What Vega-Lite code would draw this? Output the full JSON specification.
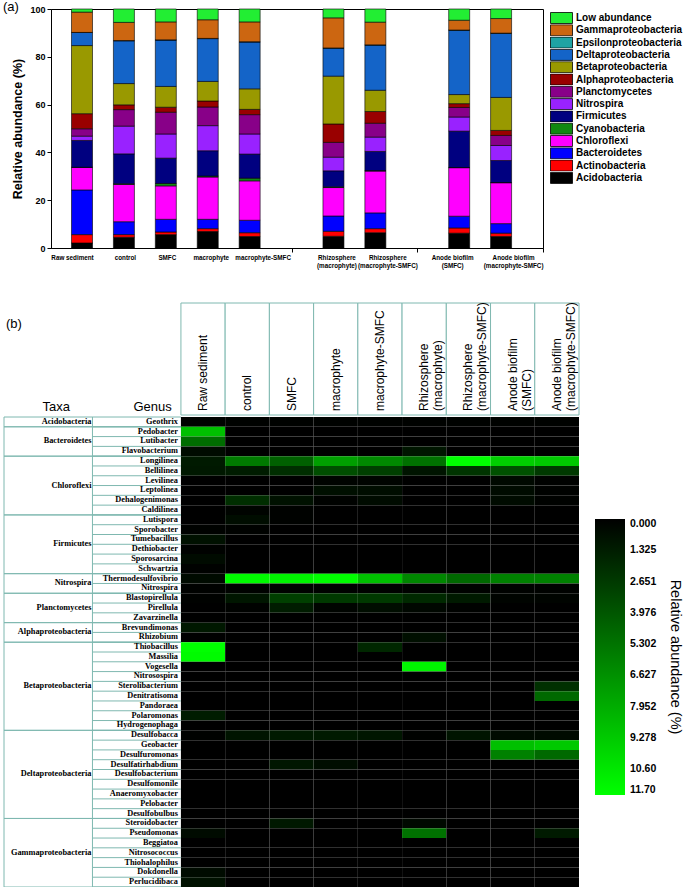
{
"$schema": "https://vega.github.io/schema/vega-lite/v6.json",
"padding": {"left": 2, "top": 0, "right": 2, "bottom": 2},
"background": "white",
"config": {"view": {"stroke": null}, "font": "Liberation Sans", "axis": {"labelColor": "black", "titleColor": "black", "domainColor": "black", "tickColor": "black"}},
"datasets": {
"phylumOrder": [
{"phylum":"Acidobacteria","level":1},{"phylum":"Actinobacteria","level":2},{"phylum":"Bacteroidetes","level":3},{"phylum":"Chloroflexi","level":4},{"phylum":"Cyanobacteria","level":5},{"phylum":"Firmicutes","level":6},{"phylum":"Nitrospira","level":7},{"phylum":"Planctomycetes","level":8},{"phylum":"Alphaproteobacteria","level":9},{"phylum":"Betaproteobacteria","level":10},{"phylum":"Deltaproteobacteria","level":11},{"phylum":"Epsilonproteobacteria","level":12},{"phylum":"Gammaproteobacteria","level":13},{"phylum":"Low abundance","level":14}
],
"bars": [
{"sample":"Raw sediment","phylum":"Acidobacteria","pct":2.1},{"sample":"Raw sediment","phylum":"Actinobacteria","pct":3.5},{"sample":"Raw sediment","phylum":"Bacteroidetes","pct":18.7},{"sample":"Raw sediment","phylum":"Chloroflexi","pct":9.4},{"sample":"Raw sediment","phylum":"Cyanobacteria","pct":0.1},{"sample":"Raw sediment","phylum":"Firmicutes","pct":11.2},{"sample":"Raw sediment","phylum":"Nitrospira","pct":1.8},{"sample":"Raw sediment","phylum":"Planctomycetes","pct":3.1},{"sample":"Raw sediment","phylum":"Alphaproteobacteria","pct":6.3},{"sample":"Raw sediment","phylum":"Betaproteobacteria","pct":28.5},{"sample":"Raw sediment","phylum":"Deltaproteobacteria","pct":5.5},{"sample":"Raw sediment","phylum":"Epsilonproteobacteria","pct":0},{"sample":"Raw sediment","phylum":"Gammaproteobacteria","pct":8.5},{"sample":"Raw sediment","phylum":"Low abundance","pct":1.3},
{"sample":"control","phylum":"Acidobacteria","pct":4.5},{"sample":"control","phylum":"Actinobacteria","pct":1.1},{"sample":"control","phylum":"Bacteroidetes","pct":5.4},{"sample":"control","phylum":"Chloroflexi","pct":15.6},{"sample":"control","phylum":"Cyanobacteria","pct":0.3},{"sample":"control","phylum":"Firmicutes","pct":12.5},{"sample":"control","phylum":"Nitrospira","pct":11.6},{"sample":"control","phylum":"Planctomycetes","pct":6.9},{"sample":"control","phylum":"Alphaproteobacteria","pct":2.0},{"sample":"control","phylum":"Betaproteobacteria","pct":8.9},{"sample":"control","phylum":"Deltaproteobacteria","pct":17.9},{"sample":"control","phylum":"Epsilonproteobacteria","pct":0.1},{"sample":"control","phylum":"Gammaproteobacteria","pct":7.6},{"sample":"control","phylum":"Low abundance","pct":5.6},
{"sample":"SMFC","phylum":"Acidobacteria","pct":5.6},{"sample":"SMFC","phylum":"Actinobacteria","pct":1.1},{"sample":"SMFC","phylum":"Bacteroidetes","pct":5.3},{"sample":"SMFC","phylum":"Chloroflexi","pct":14.0},{"sample":"SMFC","phylum":"Cyanobacteria","pct":1.0},{"sample":"SMFC","phylum":"Firmicutes","pct":10.6},{"sample":"SMFC","phylum":"Nitrospira","pct":10.1},{"sample":"SMFC","phylum":"Planctomycetes","pct":9.1},{"sample":"SMFC","phylum":"Alphaproteobacteria","pct":2.1},{"sample":"SMFC","phylum":"Betaproteobacteria","pct":8.7},{"sample":"SMFC","phylum":"Deltaproteobacteria","pct":19.4},{"sample":"SMFC","phylum":"Epsilonproteobacteria","pct":0.1},{"sample":"SMFC","phylum":"Gammaproteobacteria","pct":7.5},{"sample":"SMFC","phylum":"Low abundance","pct":5.4},
{"sample":"macrophyte","phylum":"Acidobacteria","pct":6.9},{"sample":"macrophyte","phylum":"Actinobacteria","pct":1.2},{"sample":"macrophyte","phylum":"Bacteroidetes","pct":3.9},{"sample":"macrophyte","phylum":"Chloroflexi","pct":17.7},{"sample":"macrophyte","phylum":"Cyanobacteria","pct":0.4},{"sample":"macrophyte","phylum":"Firmicutes","pct":10.6},{"sample":"macrophyte","phylum":"Nitrospira","pct":10.5},{"sample":"macrophyte","phylum":"Planctomycetes","pct":7.8},{"sample":"macrophyte","phylum":"Alphaproteobacteria","pct":2.5},{"sample":"macrophyte","phylum":"Betaproteobacteria","pct":8.2},{"sample":"macrophyte","phylum":"Deltaproteobacteria","pct":17.9},{"sample":"macrophyte","phylum":"Epsilonproteobacteria","pct":0.1},{"sample":"macrophyte","phylum":"Gammaproteobacteria","pct":7.8},{"sample":"macrophyte","phylum":"Low abundance","pct":4.5},
{"sample":"macrophyte-SMFC","phylum":"Acidobacteria","pct":4.8},{"sample":"macrophyte-SMFC","phylum":"Actinobacteria","pct":1.6},{"sample":"macrophyte-SMFC","phylum":"Bacteroidetes","pct":5.2},{"sample":"macrophyte-SMFC","phylum":"Chloroflexi","pct":16.5},{"sample":"macrophyte-SMFC","phylum":"Cyanobacteria","pct":1.1},{"sample":"macrophyte-SMFC","phylum":"Firmicutes","pct":10.1},{"sample":"macrophyte-SMFC","phylum":"Nitrospira","pct":8.4},{"sample":"macrophyte-SMFC","phylum":"Planctomycetes","pct":8.1},{"sample":"macrophyte-SMFC","phylum":"Alphaproteobacteria","pct":2.2},{"sample":"macrophyte-SMFC","phylum":"Betaproteobacteria","pct":8.6},{"sample":"macrophyte-SMFC","phylum":"Deltaproteobacteria","pct":19.6},{"sample":"macrophyte-SMFC","phylum":"Epsilonproteobacteria","pct":0.1},{"sample":"macrophyte-SMFC","phylum":"Gammaproteobacteria","pct":8.3},{"sample":"macrophyte-SMFC","phylum":"Low abundance","pct":5.4},
{"sample":"Rhizosphere\n(macrophyte)","phylum":"Acidobacteria","pct":4.9},{"sample":"Rhizosphere\n(macrophyte)","phylum":"Actinobacteria","pct":2.1},{"sample":"Rhizosphere\n(macrophyte)","phylum":"Bacteroidetes","pct":6.4},{"sample":"Rhizosphere\n(macrophyte)","phylum":"Chloroflexi","pct":11.9},{"sample":"Rhizosphere\n(macrophyte)","phylum":"Cyanobacteria","pct":0.3},{"sample":"Rhizosphere\n(macrophyte)","phylum":"Firmicutes","pct":6.7},{"sample":"Rhizosphere\n(macrophyte)","phylum":"Nitrospira","pct":5.7},{"sample":"Rhizosphere\n(macrophyte)","phylum":"Planctomycetes","pct":6.2},{"sample":"Rhizosphere\n(macrophyte)","phylum":"Alphaproteobacteria","pct":7.7},{"sample":"Rhizosphere\n(macrophyte)","phylum":"Betaproteobacteria","pct":20.0},{"sample":"Rhizosphere\n(macrophyte)","phylum":"Deltaproteobacteria","pct":11.7},{"sample":"Rhizosphere\n(macrophyte)","phylum":"Epsilonproteobacteria","pct":0.1},{"sample":"Rhizosphere\n(macrophyte)","phylum":"Gammaproteobacteria","pct":12.6},{"sample":"Rhizosphere\n(macrophyte)","phylum":"Low abundance","pct":3.7},
{"sample":"Rhizosphere\n(macrophyte-SMFC)","phylum":"Acidobacteria","pct":6.4},{"sample":"Rhizosphere\n(macrophyte-SMFC)","phylum":"Actinobacteria","pct":1.7},{"sample":"Rhizosphere\n(macrophyte-SMFC)","phylum":"Bacteroidetes","pct":6.6},{"sample":"Rhizosphere\n(macrophyte-SMFC)","phylum":"Chloroflexi","pct":17.5},{"sample":"Rhizosphere\n(macrophyte-SMFC)","phylum":"Cyanobacteria","pct":0.2},{"sample":"Rhizosphere\n(macrophyte-SMFC)","phylum":"Firmicutes","pct":8.0},{"sample":"Rhizosphere\n(macrophyte-SMFC)","phylum":"Nitrospira","pct":6.0},{"sample":"Rhizosphere\n(macrophyte-SMFC)","phylum":"Planctomycetes","pct":5.8},{"sample":"Rhizosphere\n(macrophyte-SMFC)","phylum":"Alphaproteobacteria","pct":4.9},{"sample":"Rhizosphere\n(macrophyte-SMFC)","phylum":"Betaproteobacteria","pct":8.9},{"sample":"Rhizosphere\n(macrophyte-SMFC)","phylum":"Deltaproteobacteria","pct":18.9},{"sample":"Rhizosphere\n(macrophyte-SMFC)","phylum":"Epsilonproteobacteria","pct":0.1},{"sample":"Rhizosphere\n(macrophyte-SMFC)","phylum":"Gammaproteobacteria","pct":9.5},{"sample":"Rhizosphere\n(macrophyte-SMFC)","phylum":"Low abundance","pct":5.5},
{"sample":"Anode biofilm\n(SMFC)","phylum":"Acidobacteria","pct":6.2},{"sample":"Anode biofilm\n(SMFC)","phylum":"Actinobacteria","pct":2.2},{"sample":"Anode biofilm\n(SMFC)","phylum":"Bacteroidetes","pct":4.9},{"sample":"Anode biofilm\n(SMFC)","phylum":"Chloroflexi","pct":20.3},{"sample":"Anode biofilm\n(SMFC)","phylum":"Cyanobacteria","pct":0.1},{"sample":"Anode biofilm\n(SMFC)","phylum":"Firmicutes","pct":15.2},{"sample":"Anode biofilm\n(SMFC)","phylum":"Nitrospira","pct":5.9},{"sample":"Anode biofilm\n(SMFC)","phylum":"Planctomycetes","pct":4.0},{"sample":"Anode biofilm\n(SMFC)","phylum":"Alphaproteobacteria","pct":1.6},{"sample":"Anode biofilm\n(SMFC)","phylum":"Betaproteobacteria","pct":3.8},{"sample":"Anode biofilm\n(SMFC)","phylum":"Deltaproteobacteria","pct":26.9},{"sample":"Anode biofilm\n(SMFC)","phylum":"Epsilonproteobacteria","pct":0.1},{"sample":"Anode biofilm\n(SMFC)","phylum":"Gammaproteobacteria","pct":4.1},{"sample":"Anode biofilm\n(SMFC)","phylum":"Low abundance","pct":4.7},
{"sample":"Anode biofilm\n(macrophyte-SMFC)","phylum":"Acidobacteria","pct":4.8},{"sample":"Anode biofilm\n(macrophyte-SMFC)","phylum":"Actinobacteria","pct":1.4},{"sample":"Anode biofilm\n(macrophyte-SMFC)","phylum":"Bacteroidetes","pct":4.0},{"sample":"Anode biofilm\n(macrophyte-SMFC)","phylum":"Chloroflexi","pct":17.1},{"sample":"Anode biofilm\n(macrophyte-SMFC)","phylum":"Cyanobacteria","pct":0.1},{"sample":"Anode biofilm\n(macrophyte-SMFC)","phylum":"Firmicutes","pct":9.2},{"sample":"Anode biofilm\n(macrophyte-SMFC)","phylum":"Nitrospira","pct":6.3},{"sample":"Anode biofilm\n(macrophyte-SMFC)","phylum":"Planctomycetes","pct":4.2},{"sample":"Anode biofilm\n(macrophyte-SMFC)","phylum":"Alphaproteobacteria","pct":2.1},{"sample":"Anode biofilm\n(macrophyte-SMFC)","phylum":"Betaproteobacteria","pct":13.8},{"sample":"Anode biofilm\n(macrophyte-SMFC)","phylum":"Deltaproteobacteria","pct":26.8},{"sample":"Anode biofilm\n(macrophyte-SMFC)","phylum":"Epsilonproteobacteria","pct":0.1},{"sample":"Anode biofilm\n(macrophyte-SMFC)","phylum":"Gammaproteobacteria","pct":6.1},{"sample":"Anode biofilm\n(macrophyte-SMFC)","phylum":"Low abundance","pct":4.0}
],
"samples": [
{"code":"RS","label":"Raw sediment"},{"code":"C","label":"control"},{"code":"S","label":"SMFC"},{"code":"M","label":"macrophyte"},{"code":"MS","label":"macrophyte-SMFC"},{"code":"RhM","label":"Rhizosphere\n(macrophyte)"},{"code":"RhMS","label":"Rhizosphere\n(macrophyte-SMFC)"},{"code":"AS","label":"Anode biofilm\n(SMFC)"},{"code":"AMS","label":"Anode biofilm\n(macrophyte-SMFC)"}
],
"genera": [
{"genus":"Geothrix","taxa":"Acidobacteria"},{"genus":"Pedobacter","taxa":"Bacteroidetes"},{"genus":"Lutibacter","taxa":"Bacteroidetes"},{"genus":"Flavobacterium","taxa":"Bacteroidetes"},{"genus":"Longilinea","taxa":"Chloroflexi"},{"genus":"Bellilinea","taxa":"Chloroflexi"},{"genus":"Levilinea","taxa":"Chloroflexi"},{"genus":"Leptolinea","taxa":"Chloroflexi"},{"genus":"Dehalogenimonas","taxa":"Chloroflexi"},{"genus":"Caldilinea","taxa":"Chloroflexi"},{"genus":"Lutispora","taxa":"Firmicutes"},{"genus":"Sporobacter","taxa":"Firmicutes"},{"genus":"Tumebacillus","taxa":"Firmicutes"},{"genus":"Dethiobacter","taxa":"Firmicutes"},{"genus":"Sporosarcina","taxa":"Firmicutes"},{"genus":"Schwartzia","taxa":"Firmicutes"},{"genus":"Thermodesulfovibrio","taxa":"Nitrospira"},{"genus":"Nitrospira","taxa":"Nitrospira"},{"genus":"Blastopirellula","taxa":"Planctomycetes"},{"genus":"Pirellula","taxa":"Planctomycetes"},{"genus":"Zavarzinella","taxa":"Planctomycetes"},{"genus":"Brevundimonas","taxa":"Alphaproteobacteria"},{"genus":"Rhizobium","taxa":"Alphaproteobacteria"},{"genus":"Thiobacillus","taxa":"Betaproteobacteria"},{"genus":"Massilia","taxa":"Betaproteobacteria"},{"genus":"Vogesella","taxa":"Betaproteobacteria"},{"genus":"Nitrosospira","taxa":"Betaproteobacteria"},{"genus":"Sterolibacterium","taxa":"Betaproteobacteria"},{"genus":"Denitratisoma","taxa":"Betaproteobacteria"},{"genus":"Pandoraea","taxa":"Betaproteobacteria"},{"genus":"Polaromonas","taxa":"Betaproteobacteria"},{"genus":"Hydrogenophaga","taxa":"Betaproteobacteria"},{"genus":"Desulfobacca","taxa":"Deltaproteobacteria"},{"genus":"Geobacter","taxa":"Deltaproteobacteria"},{"genus":"Desulfuromonas","taxa":"Deltaproteobacteria"},{"genus":"Desulfatirhabdium","taxa":"Deltaproteobacteria"},{"genus":"Desulfobacterium","taxa":"Deltaproteobacteria"},{"genus":"Desulfomonile","taxa":"Deltaproteobacteria"},{"genus":"Anaeromyxobacter","taxa":"Deltaproteobacteria"},{"genus":"Pelobacter","taxa":"Deltaproteobacteria"},{"genus":"Desulfobulbus","taxa":"Deltaproteobacteria"},{"genus":"Steroidobacter","taxa":"Gammaproteobacteria"},{"genus":"Pseudomonas","taxa":"Gammaproteobacteria"},{"genus":"Beggiatoa","taxa":"Gammaproteobacteria"},{"genus":"Nitrosococcus","taxa":"Gammaproteobacteria"},{"genus":"Thiohalophilus","taxa":"Gammaproteobacteria"},{"genus":"Dokdonella","taxa":"Gammaproteobacteria"},{"genus":"Perlucidibaca","taxa":"Gammaproteobacteria"}
],
"taxa": [
{"taxa":"Acidobacteria","first":"Geothrix","last":"Geothrix","mid":"Geothrix","n":1},
{"taxa":"Bacteroidetes","first":"Pedobacter","last":"Flavobacterium","mid":"Lutibacter","n":3},
{"taxa":"Chloroflexi","first":"Longilinea","last":"Caldilinea","mid":"Leptolinea","n":6},
{"taxa":"Firmicutes","first":"Lutispora","last":"Schwartzia","mid":"Dethiobacter","n":6},
{"taxa":"Nitrospira","first":"Thermodesulfovibrio","last":"Nitrospira","mid":"Nitrospira","n":2},
{"taxa":"Planctomycetes","first":"Blastopirellula","last":"Zavarzinella","mid":"Pirellula","n":3},
{"taxa":"Alphaproteobacteria","first":"Brevundimonas","last":"Rhizobium","mid":"Rhizobium","n":2},
{"taxa":"Betaproteobacteria","first":"Thiobacillus","last":"Hydrogenophaga","mid":"Sterolibacterium","n":9},
{"taxa":"Deltaproteobacteria","first":"Desulfobacca","last":"Desulfobulbus","mid":"Desulfobacterium","n":9},
{"taxa":"Gammaproteobacteria","first":"Steroidobacter","last":"Perlucidibaca","mid":"Nitrosococcus","n":7}
],
"cells": [
{"genus":"Geothrix","code":"RS","value":0.1},{"genus":"Geothrix","code":"C","value":0.1},{"genus":"Geothrix","code":"S","value":0.1},{"genus":"Geothrix","code":"M","value":0.1},{"genus":"Geothrix","code":"MS","value":0.1},{"genus":"Geothrix","code":"RhM","value":0.1},{"genus":"Geothrix","code":"RhMS","value":0.1},{"genus":"Geothrix","code":"AS","value":0.1},{"genus":"Geothrix","code":"AMS","value":0.1},
{"genus":"Pedobacter","code":"RS","value":8.8},{"genus":"Pedobacter","code":"C","value":0},{"genus":"Pedobacter","code":"S","value":0},{"genus":"Pedobacter","code":"M","value":0},{"genus":"Pedobacter","code":"MS","value":0},{"genus":"Pedobacter","code":"RhM","value":0},{"genus":"Pedobacter","code":"RhMS","value":0},{"genus":"Pedobacter","code":"AS","value":0},{"genus":"Pedobacter","code":"AMS","value":0},
{"genus":"Lutibacter","code":"RS","value":5.0},{"genus":"Lutibacter","code":"C","value":0},{"genus":"Lutibacter","code":"S","value":0},{"genus":"Lutibacter","code":"M","value":0},{"genus":"Lutibacter","code":"MS","value":0},{"genus":"Lutibacter","code":"RhM","value":0},{"genus":"Lutibacter","code":"RhMS","value":0},{"genus":"Lutibacter","code":"AS","value":0},{"genus":"Lutibacter","code":"AMS","value":0},
{"genus":"Flavobacterium","code":"RS","value":0.5},{"genus":"Flavobacterium","code":"C","value":0},{"genus":"Flavobacterium","code":"S","value":0},{"genus":"Flavobacterium","code":"M","value":0},{"genus":"Flavobacterium","code":"MS","value":0},{"genus":"Flavobacterium","code":"RhM","value":1.0},{"genus":"Flavobacterium","code":"RhMS","value":0},{"genus":"Flavobacterium","code":"AS","value":0},{"genus":"Flavobacterium","code":"AMS","value":0},
{"genus":"Longilinea","code":"RS","value":1.2},{"genus":"Longilinea","code":"C","value":5.6},{"genus":"Longilinea","code":"S","value":4.4},{"genus":"Longilinea","code":"M","value":7.3},{"genus":"Longilinea","code":"MS","value":6.3},{"genus":"Longilinea","code":"RhM","value":5.2},{"genus":"Longilinea","code":"RhMS","value":11.7},{"genus":"Longilinea","code":"AS","value":9.5},{"genus":"Longilinea","code":"AMS","value":9.2},
{"genus":"Bellilinea","code":"RS","value":1.1},{"genus":"Bellilinea","code":"C","value":1.3},{"genus":"Bellilinea","code":"S","value":2.1},{"genus":"Bellilinea","code":"M","value":3.6},{"genus":"Bellilinea","code":"MS","value":2.9},{"genus":"Bellilinea","code":"RhM","value":0.9},{"genus":"Bellilinea","code":"RhMS","value":2.4},{"genus":"Bellilinea","code":"AS","value":3.7},{"genus":"Bellilinea","code":"AMS","value":2.6},
{"genus":"Levilinea","code":"RS","value":0},{"genus":"Levilinea","code":"C","value":0},{"genus":"Levilinea","code":"S","value":0},{"genus":"Levilinea","code":"M","value":0.2},{"genus":"Levilinea","code":"MS","value":0.2},{"genus":"Levilinea","code":"RhM","value":0},{"genus":"Levilinea","code":"RhMS","value":0},{"genus":"Levilinea","code":"AS","value":0.4},{"genus":"Levilinea","code":"AMS","value":0.1},
{"genus":"Leptolinea","code":"RS","value":0},{"genus":"Leptolinea","code":"C","value":0},{"genus":"Leptolinea","code":"S","value":0},{"genus":"Leptolinea","code":"M","value":0.7},{"genus":"Leptolinea","code":"MS","value":0.6},{"genus":"Leptolinea","code":"RhM","value":0},{"genus":"Leptolinea","code":"RhMS","value":0},{"genus":"Leptolinea","code":"AS","value":0.5},{"genus":"Leptolinea","code":"AMS","value":0.1},
{"genus":"Dehalogenimonas","code":"RS","value":0},{"genus":"Dehalogenimonas","code":"C","value":2.1},{"genus":"Dehalogenimonas","code":"S","value":0.8},{"genus":"Dehalogenimonas","code":"M","value":0.1},{"genus":"Dehalogenimonas","code":"MS","value":0.5},{"genus":"Dehalogenimonas","code":"RhM","value":0},{"genus":"Dehalogenimonas","code":"RhMS","value":0},{"genus":"Dehalogenimonas","code":"AS","value":0.5},{"genus":"Dehalogenimonas","code":"AMS","value":0.1},
{"genus":"Caldilinea","code":"RS","value":0},{"genus":"Caldilinea","code":"C","value":0.2},{"genus":"Caldilinea","code":"S","value":0.1},{"genus":"Caldilinea","code":"M","value":0},{"genus":"Caldilinea","code":"MS","value":0},{"genus":"Caldilinea","code":"RhM","value":0},{"genus":"Caldilinea","code":"RhMS","value":0},{"genus":"Caldilinea","code":"AS","value":0},{"genus":"Caldilinea","code":"AMS","value":0},
{"genus":"Lutispora","code":"RS","value":0},{"genus":"Lutispora","code":"C","value":0.6},{"genus":"Lutispora","code":"S","value":0.1},{"genus":"Lutispora","code":"M","value":0},{"genus":"Lutispora","code":"MS","value":0},{"genus":"Lutispora","code":"RhM","value":0},{"genus":"Lutispora","code":"RhMS","value":0},{"genus":"Lutispora","code":"AS","value":0},{"genus":"Lutispora","code":"AMS","value":0},
{"genus":"Sporobacter","code":"RS","value":0.1},{"genus":"Sporobacter","code":"C","value":0.1},{"genus":"Sporobacter","code":"S","value":0},{"genus":"Sporobacter","code":"M","value":0},{"genus":"Sporobacter","code":"MS","value":0},{"genus":"Sporobacter","code":"RhM","value":0},{"genus":"Sporobacter","code":"RhMS","value":0},{"genus":"Sporobacter","code":"AS","value":0},{"genus":"Sporobacter","code":"AMS","value":0},
{"genus":"Tumebacillus","code":"RS","value":0.8},{"genus":"Tumebacillus","code":"C","value":0},{"genus":"Tumebacillus","code":"S","value":0},{"genus":"Tumebacillus","code":"M","value":0},{"genus":"Tumebacillus","code":"MS","value":0},{"genus":"Tumebacillus","code":"RhM","value":0},{"genus":"Tumebacillus","code":"RhMS","value":0},{"genus":"Tumebacillus","code":"AS","value":0},{"genus":"Tumebacillus","code":"AMS","value":0},
{"genus":"Dethiobacter","code":"RS","value":0.1},{"genus":"Dethiobacter","code":"C","value":0},{"genus":"Dethiobacter","code":"S","value":0},{"genus":"Dethiobacter","code":"M","value":0},{"genus":"Dethiobacter","code":"MS","value":0},{"genus":"Dethiobacter","code":"RhM","value":0},{"genus":"Dethiobacter","code":"RhMS","value":0},{"genus":"Dethiobacter","code":"AS","value":0},{"genus":"Dethiobacter","code":"AMS","value":0},
{"genus":"Sporosarcina","code":"RS","value":0.5},{"genus":"Sporosarcina","code":"C","value":0},{"genus":"Sporosarcina","code":"S","value":0},{"genus":"Sporosarcina","code":"M","value":0},{"genus":"Sporosarcina","code":"MS","value":0},{"genus":"Sporosarcina","code":"RhM","value":0},{"genus":"Sporosarcina","code":"RhMS","value":0},{"genus":"Sporosarcina","code":"AS","value":0},{"genus":"Sporosarcina","code":"AMS","value":0},
{"genus":"Schwartzia","code":"RS","value":0.1},{"genus":"Schwartzia","code":"C","value":0},{"genus":"Schwartzia","code":"S","value":0},{"genus":"Schwartzia","code":"M","value":0},{"genus":"Schwartzia","code":"MS","value":0},{"genus":"Schwartzia","code":"RhM","value":0},{"genus":"Schwartzia","code":"RhMS","value":0},{"genus":"Schwartzia","code":"AS","value":0},{"genus":"Schwartzia","code":"AMS","value":0},
{"genus":"Thermodesulfovibrio","code":"RS","value":0.5},{"genus":"Thermodesulfovibrio","code":"C","value":11.5},{"genus":"Thermodesulfovibrio","code":"S","value":11.2},{"genus":"Thermodesulfovibrio","code":"M","value":11.6},{"genus":"Thermodesulfovibrio","code":"MS","value":8.8},{"genus":"Thermodesulfovibrio","code":"RhM","value":6.2},{"genus":"Thermodesulfovibrio","code":"RhMS","value":4.8},{"genus":"Thermodesulfovibrio","code":"AS","value":5.9},{"genus":"Thermodesulfovibrio","code":"AMS","value":5.9},
{"genus":"Nitrospira","code":"RS","value":0.1},{"genus":"Nitrospira","code":"C","value":0.1},{"genus":"Nitrospira","code":"S","value":0.1},{"genus":"Nitrospira","code":"M","value":0.1},{"genus":"Nitrospira","code":"MS","value":0.1},{"genus":"Nitrospira","code":"RhM","value":0.1},{"genus":"Nitrospira","code":"RhMS","value":0.1},{"genus":"Nitrospira","code":"AS","value":0.1},{"genus":"Nitrospira","code":"AMS","value":0.1},
{"genus":"Blastopirellula","code":"RS","value":0.1},{"genus":"Blastopirellula","code":"C","value":1.0},{"genus":"Blastopirellula","code":"S","value":2.9},{"genus":"Blastopirellula","code":"M","value":2.6},{"genus":"Blastopirellula","code":"MS","value":2.6},{"genus":"Blastopirellula","code":"RhM","value":1.9},{"genus":"Blastopirellula","code":"RhMS","value":1.2},{"genus":"Blastopirellula","code":"AS","value":0.2},{"genus":"Blastopirellula","code":"AMS","value":0.2},
{"genus":"Pirellula","code":"RS","value":0},{"genus":"Pirellula","code":"C","value":0.1},{"genus":"Pirellula","code":"S","value":1.3},{"genus":"Pirellula","code":"M","value":0.2},{"genus":"Pirellula","code":"MS","value":0.6},{"genus":"Pirellula","code":"RhM","value":0.3},{"genus":"Pirellula","code":"RhMS","value":0.1},{"genus":"Pirellula","code":"AS","value":0},{"genus":"Pirellula","code":"AMS","value":0},
{"genus":"Zavarzinella","code":"RS","value":0},{"genus":"Zavarzinella","code":"C","value":0},{"genus":"Zavarzinella","code":"S","value":0},{"genus":"Zavarzinella","code":"M","value":0},{"genus":"Zavarzinella","code":"MS","value":0},{"genus":"Zavarzinella","code":"RhM","value":0},{"genus":"Zavarzinella","code":"RhMS","value":0},{"genus":"Zavarzinella","code":"AS","value":0},{"genus":"Zavarzinella","code":"AMS","value":0},
{"genus":"Brevundimonas","code":"RS","value":1.1},{"genus":"Brevundimonas","code":"C","value":0},{"genus":"Brevundimonas","code":"S","value":0},{"genus":"Brevundimonas","code":"M","value":0},{"genus":"Brevundimonas","code":"MS","value":0},{"genus":"Brevundimonas","code":"RhM","value":0},{"genus":"Brevundimonas","code":"RhMS","value":0},{"genus":"Brevundimonas","code":"AS","value":0},{"genus":"Brevundimonas","code":"AMS","value":0},
{"genus":"Rhizobium","code":"RS","value":0},{"genus":"Rhizobium","code":"C","value":0},{"genus":"Rhizobium","code":"S","value":0},{"genus":"Rhizobium","code":"M","value":0},{"genus":"Rhizobium","code":"MS","value":0},{"genus":"Rhizobium","code":"RhM","value":0.7},{"genus":"Rhizobium","code":"RhMS","value":0},{"genus":"Rhizobium","code":"AS","value":0},{"genus":"Rhizobium","code":"AMS","value":0},
{"genus":"Thiobacillus","code":"RS","value":11.7},{"genus":"Thiobacillus","code":"C","value":0},{"genus":"Thiobacillus","code":"S","value":0},{"genus":"Thiobacillus","code":"M","value":0},{"genus":"Thiobacillus","code":"MS","value":1.8},{"genus":"Thiobacillus","code":"RhM","value":0},{"genus":"Thiobacillus","code":"RhMS","value":0},{"genus":"Thiobacillus","code":"AS","value":0},{"genus":"Thiobacillus","code":"AMS","value":0},
{"genus":"Massilia","code":"RS","value":11.5},{"genus":"Massilia","code":"C","value":0},{"genus":"Massilia","code":"S","value":0},{"genus":"Massilia","code":"M","value":0},{"genus":"Massilia","code":"MS","value":0},{"genus":"Massilia","code":"RhM","value":0},{"genus":"Massilia","code":"RhMS","value":0},{"genus":"Massilia","code":"AS","value":0},{"genus":"Massilia","code":"AMS","value":0},
{"genus":"Vogesella","code":"RS","value":0},{"genus":"Vogesella","code":"C","value":0},{"genus":"Vogesella","code":"S","value":0},{"genus":"Vogesella","code":"M","value":0},{"genus":"Vogesella","code":"MS","value":0},{"genus":"Vogesella","code":"RhM","value":11.3},{"genus":"Vogesella","code":"RhMS","value":0},{"genus":"Vogesella","code":"AS","value":0},{"genus":"Vogesella","code":"AMS","value":0},
{"genus":"Nitrosospira","code":"RS","value":0},{"genus":"Nitrosospira","code":"C","value":0},{"genus":"Nitrosospira","code":"S","value":0},{"genus":"Nitrosospira","code":"M","value":0},{"genus":"Nitrosospira","code":"MS","value":0},{"genus":"Nitrosospira","code":"RhM","value":0},{"genus":"Nitrosospira","code":"RhMS","value":0},{"genus":"Nitrosospira","code":"AS","value":0},{"genus":"Nitrosospira","code":"AMS","value":0},
{"genus":"Sterolibacterium","code":"RS","value":0},{"genus":"Sterolibacterium","code":"C","value":0},{"genus":"Sterolibacterium","code":"S","value":0},{"genus":"Sterolibacterium","code":"M","value":0},{"genus":"Sterolibacterium","code":"MS","value":0},{"genus":"Sterolibacterium","code":"RhM","value":0},{"genus":"Sterolibacterium","code":"RhMS","value":0},{"genus":"Sterolibacterium","code":"AS","value":0},{"genus":"Sterolibacterium","code":"AMS","value":2.2},
{"genus":"Denitratisoma","code":"RS","value":0},{"genus":"Denitratisoma","code":"C","value":0},{"genus":"Denitratisoma","code":"S","value":0},{"genus":"Denitratisoma","code":"M","value":0},{"genus":"Denitratisoma","code":"MS","value":0},{"genus":"Denitratisoma","code":"RhM","value":0},{"genus":"Denitratisoma","code":"RhMS","value":0},{"genus":"Denitratisoma","code":"AS","value":0},{"genus":"Denitratisoma","code":"AMS","value":4.8},
{"genus":"Pandoraea","code":"RS","value":0},{"genus":"Pandoraea","code":"C","value":0},{"genus":"Pandoraea","code":"S","value":0},{"genus":"Pandoraea","code":"M","value":0},{"genus":"Pandoraea","code":"MS","value":0},{"genus":"Pandoraea","code":"RhM","value":0},{"genus":"Pandoraea","code":"RhMS","value":0},{"genus":"Pandoraea","code":"AS","value":0},{"genus":"Pandoraea","code":"AMS","value":0},
{"genus":"Polaromonas","code":"RS","value":1.3},{"genus":"Polaromonas","code":"C","value":0},{"genus":"Polaromonas","code":"S","value":0},{"genus":"Polaromonas","code":"M","value":0},{"genus":"Polaromonas","code":"MS","value":0},{"genus":"Polaromonas","code":"RhM","value":0},{"genus":"Polaromonas","code":"RhMS","value":0},{"genus":"Polaromonas","code":"AS","value":0},{"genus":"Polaromonas","code":"AMS","value":0},
{"genus":"Hydrogenophaga","code":"RS","value":0},{"genus":"Hydrogenophaga","code":"C","value":0},{"genus":"Hydrogenophaga","code":"S","value":0},{"genus":"Hydrogenophaga","code":"M","value":0},{"genus":"Hydrogenophaga","code":"MS","value":0},{"genus":"Hydrogenophaga","code":"RhM","value":0},{"genus":"Hydrogenophaga","code":"RhMS","value":0},{"genus":"Hydrogenophaga","code":"AS","value":0},{"genus":"Hydrogenophaga","code":"AMS","value":0},
{"genus":"Desulfobacca","code":"RS","value":0.1},{"genus":"Desulfobacca","code":"C","value":0.9},{"genus":"Desulfobacca","code":"S","value":1.2},{"genus":"Desulfobacca","code":"M","value":1.2},{"genus":"Desulfobacca","code":"MS","value":1.0},{"genus":"Desulfobacca","code":"RhM","value":0.1},{"genus":"Desulfobacca","code":"RhMS","value":0.9},{"genus":"Desulfobacca","code":"AS","value":0.5},{"genus":"Desulfobacca","code":"AMS","value":0.5},
{"genus":"Geobacter","code":"RS","value":0},{"genus":"Geobacter","code":"C","value":0},{"genus":"Geobacter","code":"S","value":0},{"genus":"Geobacter","code":"M","value":0},{"genus":"Geobacter","code":"MS","value":0},{"genus":"Geobacter","code":"RhM","value":0},{"genus":"Geobacter","code":"RhMS","value":0},{"genus":"Geobacter","code":"AS","value":8.8},{"genus":"Geobacter","code":"AMS","value":9.2},
{"genus":"Desulfuromonas","code":"RS","value":0},{"genus":"Desulfuromonas","code":"C","value":0},{"genus":"Desulfuromonas","code":"S","value":0},{"genus":"Desulfuromonas","code":"M","value":0},{"genus":"Desulfuromonas","code":"MS","value":0},{"genus":"Desulfuromonas","code":"RhM","value":0},{"genus":"Desulfuromonas","code":"RhMS","value":0},{"genus":"Desulfuromonas","code":"AS","value":5.9},{"genus":"Desulfuromonas","code":"AMS","value":4.8},
{"genus":"Desulfatirhabdium","code":"RS","value":0},{"genus":"Desulfatirhabdium","code":"C","value":0},{"genus":"Desulfatirhabdium","code":"S","value":1.0},{"genus":"Desulfatirhabdium","code":"M","value":0.6},{"genus":"Desulfatirhabdium","code":"MS","value":0},{"genus":"Desulfatirhabdium","code":"RhM","value":0},{"genus":"Desulfatirhabdium","code":"RhMS","value":0},{"genus":"Desulfatirhabdium","code":"AS","value":0},{"genus":"Desulfatirhabdium","code":"AMS","value":0},
{"genus":"Desulfobacterium","code":"RS","value":0},{"genus":"Desulfobacterium","code":"C","value":0},{"genus":"Desulfobacterium","code":"S","value":0},{"genus":"Desulfobacterium","code":"M","value":0},{"genus":"Desulfobacterium","code":"MS","value":0},{"genus":"Desulfobacterium","code":"RhM","value":0},{"genus":"Desulfobacterium","code":"RhMS","value":0},{"genus":"Desulfobacterium","code":"AS","value":0},{"genus":"Desulfobacterium","code":"AMS","value":0},
{"genus":"Desulfomonile","code":"RS","value":0},{"genus":"Desulfomonile","code":"C","value":0},{"genus":"Desulfomonile","code":"S","value":0},{"genus":"Desulfomonile","code":"M","value":0},{"genus":"Desulfomonile","code":"MS","value":0},{"genus":"Desulfomonile","code":"RhM","value":0},{"genus":"Desulfomonile","code":"RhMS","value":0},{"genus":"Desulfomonile","code":"AS","value":0},{"genus":"Desulfomonile","code":"AMS","value":0},
{"genus":"Anaeromyxobacter","code":"RS","value":0},{"genus":"Anaeromyxobacter","code":"C","value":0},{"genus":"Anaeromyxobacter","code":"S","value":0},{"genus":"Anaeromyxobacter","code":"M","value":0},{"genus":"Anaeromyxobacter","code":"MS","value":0},{"genus":"Anaeromyxobacter","code":"RhM","value":0},{"genus":"Anaeromyxobacter","code":"RhMS","value":0},{"genus":"Anaeromyxobacter","code":"AS","value":0},{"genus":"Anaeromyxobacter","code":"AMS","value":0},
{"genus":"Pelobacter","code":"RS","value":0},{"genus":"Pelobacter","code":"C","value":0},{"genus":"Pelobacter","code":"S","value":0},{"genus":"Pelobacter","code":"M","value":0},{"genus":"Pelobacter","code":"MS","value":0},{"genus":"Pelobacter","code":"RhM","value":0},{"genus":"Pelobacter","code":"RhMS","value":0},{"genus":"Pelobacter","code":"AS","value":0},{"genus":"Pelobacter","code":"AMS","value":0},
{"genus":"Desulfobulbus","code":"RS","value":0},{"genus":"Desulfobulbus","code":"C","value":0},{"genus":"Desulfobulbus","code":"S","value":0},{"genus":"Desulfobulbus","code":"M","value":0},{"genus":"Desulfobulbus","code":"MS","value":0},{"genus":"Desulfobulbus","code":"RhM","value":0},{"genus":"Desulfobulbus","code":"RhMS","value":0},{"genus":"Desulfobulbus","code":"AS","value":0},{"genus":"Desulfobulbus","code":"AMS","value":0},
{"genus":"Steroidobacter","code":"RS","value":0},{"genus":"Steroidobacter","code":"C","value":0},{"genus":"Steroidobacter","code":"S","value":1.1},{"genus":"Steroidobacter","code":"M","value":0},{"genus":"Steroidobacter","code":"MS","value":0},{"genus":"Steroidobacter","code":"RhM","value":0.4},{"genus":"Steroidobacter","code":"RhMS","value":0},{"genus":"Steroidobacter","code":"AS","value":0},{"genus":"Steroidobacter","code":"AMS","value":0},
{"genus":"Pseudomonas","code":"RS","value":0.5},{"genus":"Pseudomonas","code":"C","value":0},{"genus":"Pseudomonas","code":"S","value":0},{"genus":"Pseudomonas","code":"M","value":0},{"genus":"Pseudomonas","code":"MS","value":0},{"genus":"Pseudomonas","code":"RhM","value":5.2},{"genus":"Pseudomonas","code":"RhMS","value":0},{"genus":"Pseudomonas","code":"AS","value":0},{"genus":"Pseudomonas","code":"AMS","value":1.2},
{"genus":"Beggiatoa","code":"RS","value":0},{"genus":"Beggiatoa","code":"C","value":0},{"genus":"Beggiatoa","code":"S","value":0},{"genus":"Beggiatoa","code":"M","value":0},{"genus":"Beggiatoa","code":"MS","value":0},{"genus":"Beggiatoa","code":"RhM","value":0},{"genus":"Beggiatoa","code":"RhMS","value":0},{"genus":"Beggiatoa","code":"AS","value":0},{"genus":"Beggiatoa","code":"AMS","value":0},
{"genus":"Nitrosococcus","code":"RS","value":0},{"genus":"Nitrosococcus","code":"C","value":0},{"genus":"Nitrosococcus","code":"S","value":0},{"genus":"Nitrosococcus","code":"M","value":0},{"genus":"Nitrosococcus","code":"MS","value":0},{"genus":"Nitrosococcus","code":"RhM","value":0},{"genus":"Nitrosococcus","code":"RhMS","value":0},{"genus":"Nitrosococcus","code":"AS","value":0},{"genus":"Nitrosococcus","code":"AMS","value":0},
{"genus":"Thiohalophilus","code":"RS","value":0},{"genus":"Thiohalophilus","code":"C","value":0},{"genus":"Thiohalophilus","code":"S","value":0},{"genus":"Thiohalophilus","code":"M","value":0},{"genus":"Thiohalophilus","code":"MS","value":0},{"genus":"Thiohalophilus","code":"RhM","value":0},{"genus":"Thiohalophilus","code":"RhMS","value":0},{"genus":"Thiohalophilus","code":"AS","value":0},{"genus":"Thiohalophilus","code":"AMS","value":0},
{"genus":"Dokdonella","code":"RS","value":0.5},{"genus":"Dokdonella","code":"C","value":0},{"genus":"Dokdonella","code":"S","value":0},{"genus":"Dokdonella","code":"M","value":0},{"genus":"Dokdonella","code":"MS","value":0},{"genus":"Dokdonella","code":"RhM","value":0},{"genus":"Dokdonella","code":"RhMS","value":0},{"genus":"Dokdonella","code":"AS","value":0},{"genus":"Dokdonella","code":"AMS","value":0},
{"genus":"Perlucidibaca","code":"RS","value":0.8},{"genus":"Perlucidibaca","code":"C","value":0},{"genus":"Perlucidibaca","code":"S","value":0},{"genus":"Perlucidibaca","code":"M","value":0},{"genus":"Perlucidibaca","code":"MS","value":0},{"genus":"Perlucidibaca","code":"RhM","value":0},{"genus":"Perlucidibaca","code":"RhMS","value":0},{"genus":"Perlucidibaca","code":"AS","value":0},{"genus":"Perlucidibaca","code":"AMS","value":0}
]
},
"vconcat": [
 {
 "width": 492, "height": 239,
 "view": {"stroke": "black", "strokeWidth": 1},
 "layer": [
  {
   "data": {"name": "bars"},
   "transform": [{"lookup": "phylum", "from": {"data": {"name": "phylumOrder"}, "key": "phylum", "fields": ["level"]}}],
   "mark": {"type": "bar", "size": 21, "stroke": "black", "strokeWidth": 0.6},
   "encoding": {
    "x": {"field": "sample", "type": "nominal",
      "scale": {"type": "point", "domain": ["Raw sediment","control","SMFC","macrophyte","macrophyte-SMFC","gap1","Rhizosphere\n(macrophyte)","Rhizosphere\n(macrophyte-SMFC)","gap2","Anode biofilm\n(SMFC)","Anode biofilm\n(macrophyte-SMFC)","gap3"], "padding": 0.37, "align": 1},
      "axis": {"title": null, "labelAngle": 0, "labelFontSize": 6.3, "labelFontWeight": "bold", "labelLineHeight": 8, "labelPadding": 2, "tickSize": 4, "labelOverlap": false, "labelBound": false, "labelBaseline": "top",
        "labelExpr": "indexof(datum.value,'gap')==0 ? '' : split(datum.value,'\\n')",
        "tickOpacity": {"condition": {"test": "indexof(datum.value,'gap')==0", "value": 1}, "value": 0},
        "labelOffset": {"condition": [
           {"test": "datum.value=='Raw sediment'", "value": -10},
           {"test": "datum.value=='macrophyte-SMFC'", "value": 13},
           {"test": "indexof(datum.value,'(macrophyte-SMFC)')>0", "value": 12},
           {"test": "indexof(datum.value,'(SMFC)')>0", "value": -7},
           {"test": "datum.value=='macrophyte' || indexof(datum.value,'(macrophyte)')>0", "value": 3}
        ], "value": 1}}},
    "y": {"field": "pct", "type": "quantitative", "stack": "zero", "scale": {"domain": [0, 100]},
      "axis": {"title": "Relative abundance (%)", "values": [0,20,40,60,80,100], "grid": false, "labelFontSize": 9, "labelFontWeight": "bold", "titleFontSize": 12.5, "titleFontWeight": "bold", "tickSize": 4, "labelPadding": 2, "titlePadding": 5}},
    "order": {"field": "level", "type": "quantitative", "sort": "ascending"},
    "color": {"field": "phylum", "type": "nominal",
      "scale": {"domain": ["Low abundance","Gammaproteobacteria","Epsilonproteobacteria","Deltaproteobacteria","Betaproteobacteria","Alphaproteobacteria","Planctomycetes","Nitrospira","Firmicutes","Cyanobacteria","Chloroflexi","Bacteroidetes","Actinobacteria","Acidobacteria"],
                "range": ["#22EE33","#CC6611","#1FA3A3","#1464C8","#999900","#990000","#880088","#9922FF","#000080","#118811","#FF00FF","#0000FF","#FF0000","#000000"]},
      "legend": {"title": null, "orient": "right", "offset": 4, "padding": 3, "symbolType": "M-1,-0.5H1V0.5H-1Z", "symbolSize": 484, "symbolStrokeColor": "black", "symbolStrokeWidth": 0.8, "labelFontSize": 10, "labelFontWeight": "bold", "labelColor": "black", "labelOffset": 3, "clipHeight": 12, "rowPadding": 0.3, "labelLimit": 300}}
   }
  },
  {
   "data": {"values": [{"t": "(a)"}]},
   "mark": {"type": "text", "align": "left", "baseline": "top", "fontSize": 13, "dx": -79, "dy": -8},
   "encoding": {"x": {"datum": "Raw sediment"}, "y": {"datum": 100}, "text": {"field": "t"}}
  }
 ]
 },
{
 "vconcat": [
  {
   "width": 528, "height": 112,
   "layer": [
    {"data": {"name": "samples"}, "mark": {"type": "rect", "fill": "white", "stroke": "#7FB8B0", "strokeWidth": 1},
     "encoding": {"x": {"field": "code", "type": "nominal", "scale": {"type": "band", "domain": ["t1","t2","g1","g2","RS","C","S","M","MS","RhM","RhMS","AS","AMS"], "range": [-47, 528], "paddingInner": 0, "paddingOuter": 0}, "axis": null},
                  "y": {"datum": 0, "type": "quantitative", "scale": {"domain": [0, 1]}, "axis": null}, "y2": {"datum": 1}}},
    {"data": {"name": "samples"}, "mark": {"type": "text", "angle": 270, "align": "left", "baseline": "middle", "fontSize": 12, "lineHeight": 14, "lineBreak": "\n", "dx": 4},
     "encoding": {"x": {"field": "code", "type": "nominal", "axis": null}, "y": {"datum": 0, "type": "quantitative", "axis": null}, "text": {"field": "label"}}},
    {"data": {"values": [{"t": "(b)"}]}, "mark": {"type": "text", "align": "left", "baseline": "top", "fontSize": 13, "dx": 2, "dy": 15},
     "encoding": {"x": {"datum": "t1", "bandPosition": 0, "axis": null}, "y": {"datum": 1, "type": "quantitative", "axis": null}, "text": {"field": "t"}}},
    {"data": {"values": [{"t": "Taxa"}]}, "mark": {"type": "text", "align": "center", "baseline": "alphabetic", "fontSize": 13, "dy": -4},
     "encoding": {"x": {"datum": "t2", "bandPosition": 0.18, "axis": null}, "y": {"datum": 0, "type": "quantitative", "axis": null}, "text": {"field": "t"}}},
    {"data": {"values": [{"t": "Genus"}]}, "mark": {"type": "text", "align": "center", "baseline": "alphabetic", "fontSize": 13, "dy": -4},
     "encoding": {"x": {"datum": "g2", "bandPosition": 0.36, "axis": null}, "y": {"datum": 0, "type": "quantitative", "axis": null}, "text": {"field": "t"}}}
   ]
  },
  {
   "width": 528, "height": 470,
   "layer": [
    {"data": {"name": "cells"}, "mark": {"type": "rect"},
     "encoding": {
      "x": {"field": "code", "type": "nominal", "scale": {"type": "band", "domain": ["t1","t2","g1","g2","RS","C","S","M","MS","RhM","RhMS","AS","AMS"], "range": [-47, 528], "paddingInner": 0, "paddingOuter": 0}, "axis": null},
      "y": {"field": "genus", "type": "nominal", "scale": {"type": "band", "paddingInner": 0, "paddingOuter": 0, "domain": ["Geothrix","Pedobacter","Lutibacter","Flavobacterium","Longilinea","Bellilinea","Levilinea","Leptolinea","Dehalogenimonas","Caldilinea","Lutispora","Sporobacter","Tumebacillus","Dethiobacter","Sporosarcina","Schwartzia","Thermodesulfovibrio","Nitrospira","Blastopirellula","Pirellula","Zavarzinella","Brevundimonas","Rhizobium","Thiobacillus","Massilia","Vogesella","Nitrosospira","Sterolibacterium","Denitratisoma","Pandoraea","Polaromonas","Hydrogenophaga","Desulfobacca","Geobacter","Desulfuromonas","Desulfatirhabdium","Desulfobacterium","Desulfomonile","Anaeromyxobacter","Pelobacter","Desulfobulbus","Steroidobacter","Pseudomonas","Beggiatoa","Nitrosococcus","Thiohalophilus","Dokdonella","Perlucidibaca"]}, "axis": null},
      "color": {"field": "value", "type": "quantitative", "scale": {"domain": [11.7, 0], "range": ["#00FF00", "#000000"], "interpolate": "rgb"},
        "legend": {"orient": "none", "legendX": 544, "legendY": 216, "direction": "vertical", "title": "Relative abundance (%)", "titleOrient": "right", "titleAngle": 90, "titleAnchor": "middle", "titleFontSize": 14.5, "titleFontWeight": "normal", "titleColor": "black", "titlePadding": 12, "gradientLength": 276, "gradientThickness": 30, "gradientStrokeWidth": 0, "labelFontSize": 10.5, "labelFontWeight": "bold", "labelColor": "black", "labelOffset": 5, "values": [0,1.325,2.651,3.976,5.302,6.627,7.952,9.278,10.6,11.7], "labelExpr": "format(datum.value,'.4g')", "labelOverlap": false}}
     }},
    {"data": {"name": "genera"}, "mark": {"type": "rule", "color": "#7FB8B0", "strokeWidth": 1},
     "encoding": {"x": {"datum": "g1", "bandPosition": 0, "axis": null}, "x2": {"datum": "g2", "bandPosition": 1}, "y": {"field": "genus", "type": "nominal", "bandPosition": 1, "axis": null}}},
    {"data": {"values": [{"c": "t1"}, {"c": "g1"}]}, "mark": {"type": "rule", "color": "#7FB8B0", "strokeWidth": 1},
     "encoding": {"x": {"field": "c", "type": "nominal", "bandPosition": 0, "axis": null}}},
    {"data": {"name": "taxa"}, "mark": {"type": "rule", "color": "#7FB8B0", "strokeWidth": 1},
     "encoding": {"x": {"datum": "t1", "bandPosition": 0, "axis": null}, "x2": {"datum": "g2", "bandPosition": 1}, "y": {"field": "first", "type": "nominal", "bandPosition": 0, "axis": null}}},
    {"data": {"name": "taxa"}, "mark": {"type": "rule", "color": "#7FB8B0", "strokeWidth": 1},
     "encoding": {"x": {"datum": "t1", "bandPosition": 0, "axis": null}, "x2": {"datum": "g2", "bandPosition": 1}, "y": {"field": "last", "type": "nominal", "bandPosition": 1, "axis": null}}},
    {"data": {"name": "genera"}, "mark": {"type": "text", "align": "right", "baseline": "middle", "font": "Liberation Serif", "fontWeight": "bold", "fontSize": 8.3, "dx": -3},
     "encoding": {"x": {"datum": "g2", "bandPosition": 1, "axis": null}, "y": {"field": "genus", "type": "nominal", "axis": null}, "text": {"field": "genus"}}},
    {"data": {"name": "taxa"}, "transform": [{"filter": "datum.n % 2 == 1"}], "mark": {"type": "text", "align": "right", "baseline": "middle", "font": "Liberation Serif", "fontWeight": "bold", "fontSize": 8.3, "dx": -1},
     "encoding": {"x": {"datum": "g1", "bandPosition": 0, "axis": null}, "y": {"field": "mid", "type": "nominal", "bandPosition": 0.5, "axis": null}, "text": {"field": "taxa"}}},
    {"data": {"name": "taxa"}, "transform": [{"filter": "datum.n % 2 == 0"}], "mark": {"type": "text", "align": "right", "baseline": "middle", "font": "Liberation Serif", "fontWeight": "bold", "fontSize": 8.3, "dx": -1},
     "encoding": {"x": {"datum": "g1", "bandPosition": 0, "axis": null}, "y": {"field": "mid", "type": "nominal", "bandPosition": 0, "axis": null}, "text": {"field": "taxa"}}}
   ]
  }
 ],
 "spacing": 0,
 "resolve": {"scale": {"x": "independent", "y": "independent"}}
}
],
"spacing": 33,
"resolve": {"scale": {"x": "independent", "y": "independent", "color": "independent"}, "legend": {"color": "independent"}}
}
